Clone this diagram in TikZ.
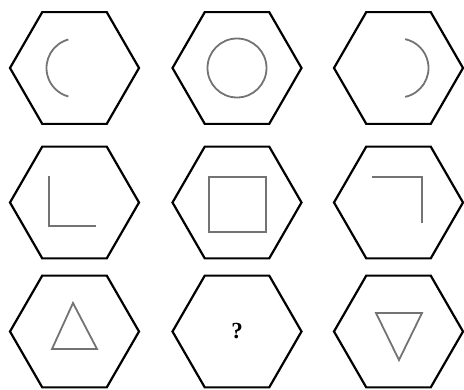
\documentclass[tikz,border=0pt]{standalone}
\usepackage{fontspec}
\setmainfont{Liberation Serif}
\usetikzlibrary{shapes.geometric}
\begin{document}
\begin{tikzpicture}[x=1pt,y=1pt,
  hexcell/.style={regular polygon, regular polygon sides=6, minimum size=129pt,
    inner sep=0pt, outer sep=0pt, draw=black, line width=2.2pt, line join=miter},
  fig/.style={draw=black!55, line width=1.8pt}]
\useasboundingbox (0,0) rectangle (464,389);
% hexagons
\node[hexcell] (h11) at (74.5,321) {};
\node[hexcell] (h12) at (237,321) {};
\node[hexcell] (h13) at (398.5,321) {};
\node[hexcell] (h21) at (74.5,186.5) {};
\node[hexcell] (h22) at (237,186.5) {};
\node[hexcell] (h23) at (398.5,186.5) {};
\node[hexcell] (h31) at (74.5,57.5) {};
\node[hexcell,font=\fontsize{23}{23}\selectfont\bfseries] (h32) at (237,57.5) {?};
\node[hexcell] (h33) at (398.5,57.5) {};
% row 1
\draw[fig] ([xshift=1.5pt]h11.center) ++(105:29.5) arc[start angle=105, end angle=255, radius=29.5];
\draw[fig] (h12.center) circle[radius=29.5];
\draw[fig] ([xshift=0.5pt]h13.center) ++(-78:29.5) arc[start angle=-78, end angle=78, radius=29.5];
% row 2
\draw[fig] ([shift={(-25.5,26.5)}]h21.center) -- ++(0,-50) -- ++(47,0);
\draw[fig] ([shift={(-28,25.5)}]h22.center) rectangle ++(57,-55);
\draw[fig] ([shift={(-26.5,25.5)}]h23.center) -- ++(50,0) -- ++(0,-46);
% row 3
\draw[fig] ([shift={(-1.5,28.5)}]h31.center) -- ++(-21,-46) -- ++(45,0) -- cycle;
\draw[fig] ([shift={(-22.5,18.5)}]h33.center) -- ++(46,0) -- ++(-23,-47) -- cycle;
\end{tikzpicture}
\end{document}
